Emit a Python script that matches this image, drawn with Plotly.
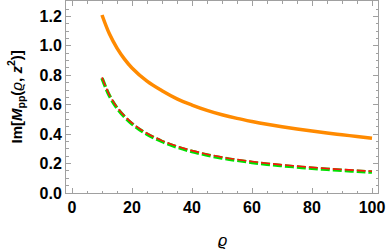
import plotly.graph_objects as go

rho_orange = [10, 12.5, 15, 17.5, 20, 25, 30, 35, 40, 45, 50, 55, 60, 65, 70, 75, 80, 85, 90, 95, 100]
im_orange = [1.21, 1.08, 0.985, 0.91, 0.85, 0.76, 0.695, 0.64, 0.598, 0.562, 0.532, 0.507, 0.486, 0.467, 0.45, 0.435, 0.421, 0.408, 0.396, 0.384, 0.372]

rho_dash = [10, 12.5, 15, 17.5, 20, 22.5, 25, 30, 35, 40, 45, 50, 55, 60, 65, 70, 75, 80, 85, 90, 95, 100]
im_green = [0.78, 0.66, 0.578, 0.518, 0.47, 0.432, 0.40, 0.35, 0.312, 0.282, 0.258, 0.238, 0.222, 0.208, 0.196, 0.186, 0.177, 0.168, 0.161, 0.154, 0.148, 0.142]
im_red = [v + 0.006 for v in im_green]

x_ticks = [0, 20, 40, 60, 80, 100]
y_ticks = [0.0, 0.2, 0.4, 0.6, 0.8, 1.0, 1.2]
y_ticklabels = ["0.0", "0.2", "0.4", "0.6", "0.8", "1.0", "1.2"]

fig = go.Figure()
fig.add_trace(go.Scatter(x=rho_orange, y=im_orange, mode="lines",
                         line=dict(color="#FF8A00", width=3.5, shape="spline")))
fig.add_trace(go.Scatter(x=rho_dash, y=im_green, mode="lines",
                         line=dict(color="#00E000", width=3.5, dash="9px,3px", shape="spline")))
fig.add_trace(go.Scatter(x=rho_dash, y=im_red, mode="lines",
                         line=dict(color="#FF1010", width=1.6, dash="9px,3px", shape="spline")))

axis_common = dict(
    showline=True, linecolor="#a0a0a0", linewidth=1, mirror="allticks",
    ticks="inside", ticklen=5, tickcolor="#a0a0a0", tickwidth=1,
    showgrid=False, zeroline=False,
    tickfont=dict(family="Liberation Sans", size=16, color="black", weight="bold"),
)

fig.update_layout(
    width=388, height=252,
    margin=dict(l=66, r=10, t=1, b=59),
    paper_bgcolor="white", plot_bgcolor="white",
    showlegend=False,
    xaxis=dict(range=[-2, 102], tickvals=x_ticks, ticktext=[str(t) for t in x_ticks],
               minor=dict(dtick=5, tick0=0, ticks="inside", ticklen=2.5, tickcolor="#a0a0a0"),
               **axis_common),
    yaxis=dict(range=[0, 1.305], tickvals=y_ticks, ticktext=y_ticklabels,
               minor=dict(dtick=0.05, tick0=0, ticks="inside", ticklen=2.5, tickcolor="#a0a0a0"),
               **axis_common),
    annotations=[
        dict(text="<i>ϱ</i>", xref="paper", yref="paper", x=0.5, y=-0.245,
             xanchor="center", yanchor="middle", showarrow=False,
             font=dict(family="Liberation Sans", size=16, color="black")),
        dict(text="<b>Im[</b><b><i>M</i></b><b><sub>pp</sub></b><b>(</b><i>ϱ</i><b>, </b><b><i>z</i></b><b><sup>2</sup></b><b>)]</b>",
             xref="paper", yref="paper", x=-0.162, y=0.5, textangle=-90,
             xanchor="center", yanchor="middle", showarrow=False,
             font=dict(family="Liberation Sans", size=15, color="black")),
    ],
)

fig.write_html("out.html", config={"displayModeBar": False},
               post_script="document.body.style.margin='0';")
